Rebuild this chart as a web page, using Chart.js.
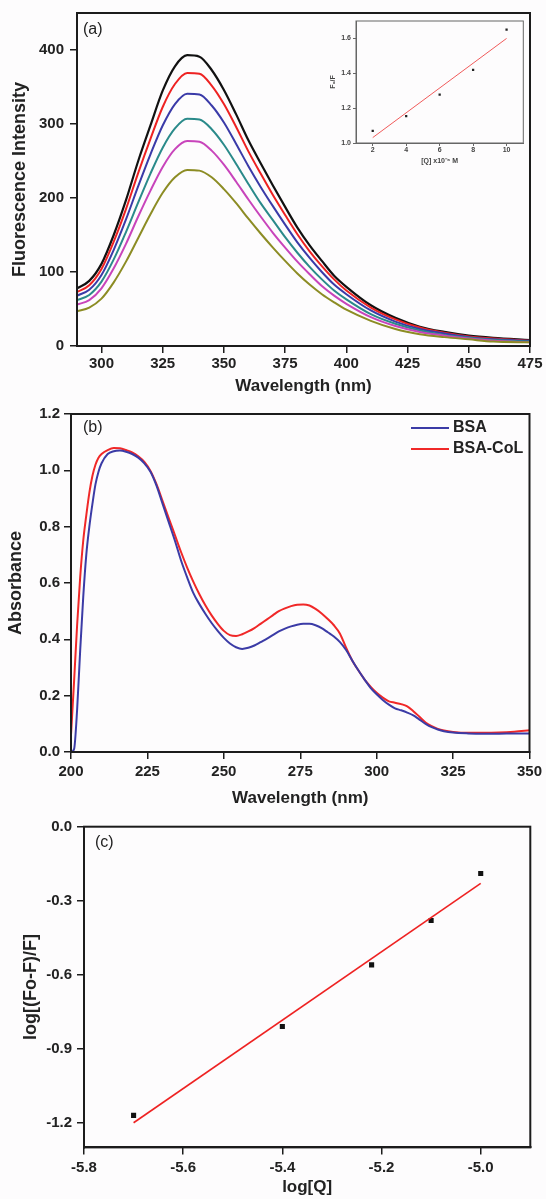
<!DOCTYPE html>
<html><head><meta charset="utf-8">
<script src="https://cdn.jsdelivr.net/npm/chart.js@4.4.0/dist/chart.umd.min.js"></script>
<style>
html,body{margin:0;padding:0;background:#fdfcfd;}
#wrap{position:relative;width:546px;height:1199px;overflow:hidden;background:#fdfcfd;}
canvas{position:absolute;}
</style></head><body>
<div id="wrap">
<canvas id="cA" width="546" height="400" style="left:0;top:0;width:546px;height:400px"></canvas>
<canvas id="cI" width="210" height="155" style="left:320px;top:15px;width:210px;height:155px"></canvas>
<canvas id="cB" width="546" height="415" style="left:0;top:400px;width:546px;height:415px"></canvas>
<canvas id="cC" width="546" height="384" style="left:0;top:815px;width:546px;height:384px"></canvas>
</div>
<script>
// ---------- Panel (a): fluorescence spectra ----------
const fluoWl = [290,295,300,305,310,315,320,325,330,335,340,345,350,355,360,365,370,375,380,385,390,395,400,410,420,430,440,450,460,475];
const fluo0 = [78,88,111,150,197,250,298,345,378,393,391,373,346,313,278,247,217,188,160,136,115,95,80,55,38,26,19,14,11,8];
const fluo1 = [73,82,104,141,185,234,280,323,354,369,368,352,327,296,263,233,204,177,151,128,108,90,75,52,36,25,18,13,10,7];
const fluo2 = [68,76,96,130,171,216,259,298,327,341,340,325,302,273,243,215,189,164,140,119,100,83,70,48,33,23,17,12,9,7];
const fluo3 = [62,69,87,117,154,194,233,268,294,307,306,293,272,246,219,193,170,147,126,107,90,75,63,43,30,21,15,11,8,6];
const fluo4 = [56,62,78,105,138,175,210,242,266,277,276,264,245,222,198,175,153,133,114,97,81,68,57,39,27,19,14,10,7,5];
const fluo5 = [47,52,64,86,114,146,178,207,228,238,237,228,212,193,172,152,133,115,98,83,70,59,49,34,23,16,12,9,6,5];
const aXTicks = [300,325,350,375,400,425,450,475];
const aYTicks = [0,100,200,300,400];

// ---------- Inset: F0/F vs [Q] ----------
const insetConc = [2,4,6,8,10];
const insetF0F = [1.069,1.154,1.278,1.419,1.65];
const insetFitX = [2,10];
const insetFitY = [1.031,1.60];
const insetXTicks = [2,4,6,8,10];
const insetYTicks = [1.0,1.2,1.4,1.6];

// ---------- Panel (b): absorbance ----------
const absWl = [200,201,202,203,204,205,206,207,208,209,210,212,214,216,218,220,222,224,226,228,230,232,234,236,238,240,242,244,246,248,250,252,254,256,258,260,262,264,266,268,270,272,274,276,278,280,282,284,286,288,290,292,294,296,298,300,302,304,306,308,310,312,314,316,318,320,322,325,330,335,340,345,350];
const absBSA = [0.00,0.01,0.15,0.36,0.55,0.70,0.80,0.88,0.95,0.995,1.025,1.058,1.068,1.070,1.066,1.058,1.045,1.025,0.995,0.945,0.88,0.815,0.75,0.68,0.62,0.565,0.525,0.49,0.458,0.43,0.405,0.385,0.372,0.366,0.37,0.378,0.39,0.402,0.415,0.428,0.438,0.446,0.452,0.455,0.455,0.45,0.44,0.425,0.41,0.39,0.362,0.325,0.29,0.258,0.228,0.205,0.185,0.168,0.155,0.148,0.14,0.13,0.115,0.10,0.088,0.08,0.074,0.069,0.066,0.065,0.065,0.066,0.066];
const absCoL = [0.06,0.25,0.45,0.62,0.75,0.84,0.92,0.98,1.02,1.045,1.058,1.072,1.079,1.078,1.072,1.064,1.05,1.03,0.998,0.95,0.89,0.83,0.77,0.71,0.655,0.605,0.56,0.52,0.485,0.455,0.43,0.415,0.412,0.418,0.428,0.44,0.455,0.47,0.485,0.50,0.51,0.518,0.523,0.524,0.52,0.508,0.492,0.472,0.45,0.42,0.37,0.325,0.29,0.258,0.232,0.21,0.193,0.18,0.175,0.17,0.162,0.145,0.125,0.105,0.092,0.082,0.076,0.071,0.068,0.068,0.069,0.072,0.077];
const absLabels = ['BSA','BSA-CoL'];
const bXTicks = [200,225,250,275,300,325,350];
const bYTicks = [0,0.2,0.4,0.6,0.8,1.0,1.2];

// ---------- Panel (c): double log ----------
const logQ = [-5.70,-5.40,-5.22,-5.10,-5.00];
const logRatio = [-1.17,-0.81,-0.56,-0.38,-0.19];
const logFitX = [-5.70,-5.00];
const logFitY = [-1.20,-0.23];
const cXTicks = [-5.8,-5.6,-5.4,-5.2,-5.0];
const cYTicks = [0,-0.3,-0.6,-0.9,-1.2];

// ---------------------------------------------------
const FF = "'Liberation Sans', Arial, Helvetica, sans-serif";
const INK = '#1c1c1c';
const toXY = (xs, ys) => xs.map((x,i)=>({x:x, y:ys[i]}));

function mkScale(o){
  return {
    type:'linear', position:o.pos, min:o.min, max:o.max,
    afterBuildTicks: s => { s.ticks = o.ticks.map(v=>({value:v})); },
    afterFit: s => {
      if (o.pos==='left') s.width = o.size; else s.height = o.size;
      s.paddingLeft = 0; s.paddingRight = 0; s.paddingTop = 0; s.paddingBottom = 0;
    },
    grid:{display:true, drawOnChartArea:false, drawTicks:true, tickLength:o.tickLen, color:o.color, lineWidth:o.lw},
    border:{display:true, color:o.color, width:o.bw},
    ticks:{color:o.tcolor, font:{family:FF, size:o.fs, weight:'bold'}, padding:o.tpad, maxRotation:0, autoSkip:false,
           callback: v => o.fmt(v)},
    title:{display:true, text:o.title, color:o.tcolor, font:{family:FF, size:o.tfs, weight:'bold'}, padding:o.titlePad}
  };
}

const framePlugin = {
  id:'frame',
  afterDraw(chart, args, opts){
    const ctx = chart.ctx, a = chart.chartArea;
    ctx.save();
    ctx.strokeStyle = opts.color; ctx.lineWidth = opts.width;
    ctx.strokeRect(a.left, a.top, a.right-a.left, a.bottom-a.top);
    if (opts.label){
      ctx.fillStyle = '#222'; ctx.font = opts.labelFont;
      ctx.textBaseline = 'middle'; ctx.textAlign = 'left';
      ctx.fillText(opts.label, opts.lx, opts.ly);
    }
    ctx.restore();
  }
};

const lineLegend = {
  id:'lineLegend',
  afterDraw(chart, args, opts){
    if (!opts || !opts.show) return;
    const ctx = chart.ctx;
    ctx.save();
    chart.data.datasets.forEach((ds,i)=>{
      const y = opts.y0 + i*opts.dy;
      ctx.strokeStyle = ds.borderColor; ctx.lineWidth = ds.borderWidth;
      ctx.beginPath(); ctx.moveTo(opts.x0, y); ctx.lineTo(opts.x1, y); ctx.stroke();
      ctx.fillStyle = '#222'; ctx.font = 'bold 16px ' + FF;
      ctx.textBaseline = 'middle'; ctx.textAlign = 'left';
      ctx.fillText(ds.label, opts.tx, y);
    });
    ctx.restore();
  }
};

const baseOpts = {responsive:false, animation:false, devicePixelRatio:1, events:[],
  plugins:{legend:{display:false}, tooltip:{enabled:false}}};

function curve(label, xs, ys, color, w){
  return {label:label, data:toXY(xs, ys), showLine:true, borderColor:color, backgroundColor:color,
          borderWidth:w, pointRadius:0, cubicInterpolationMode:'monotone', fill:false};
}

// Panel A
new Chart(document.getElementById('cA'), {
  type:'scatter',
  data:{datasets:[
    curve('', fluoWl, fluo5, '#8c8c24', 2),
    curve('', fluoWl, fluo4, '#c844bb', 2),
    curve('', fluoWl, fluo3, '#2a8a8a', 2),
    curve('', fluoWl, fluo2, '#3a3aa8', 2),
    curve('', fluoWl, fluo1, '#ee2222', 2),
    curve('', fluoWl, fluo0, '#111111', 2.2)
  ]},
  options:Object.assign({}, baseOpts, {
    layout:{padding:{top:13, right:16, left:0, bottom:0}},
    scales:{
      x: mkScale({pos:'bottom', min:290, max:475, ticks:aXTicks, size:54, tickLen:7, color:INK, lw:1.5, bw:2,
                  tcolor:'#222', fs:15, tpad:2, fmt:v=>String(v), title:'Wavelength (nm)', tfs:17, titlePad:{top:0,bottom:3}}),
      y: mkScale({pos:'left', min:0, max:450, ticks:aYTicks, size:77, tickLen:7, color:INK, lw:1.5, bw:2,
                  tcolor:'#222', fs:15, tpad:6, fmt:v=>String(v), title:'Fluorescence Intensity', tfs:18, titlePad:{top:9,bottom:0}})
    },
    plugins:Object.assign({}, baseOpts.plugins, {frame:{color:INK, width:2, label:'(a)', labelFont:'16px '+FF, lx:83, ly:30}})
  }),
  plugins:[framePlugin]
});

// Inset
new Chart(document.getElementById('cI'), {
  type:'scatter',
  data:{datasets:[
    {label:'fit', data:toXY(insetFitX, insetFitY), showLine:true, borderColor:'#f05a5a', borderWidth:1, pointRadius:0},
    {label:'F0/F', data:toXY(insetConc, insetF0F), showLine:false, pointStyle:'rect', pointRadius:1.6, backgroundColor:'#222', borderWidth:0}
  ]},
  options:Object.assign({}, baseOpts, {
    layout:{padding:{top:6, right:6.7, left:0, bottom:0}},
    scales:{
      x: mkScale({pos:'bottom', min:1, max:11, ticks:insetXTicks, size:27, tickLen:3, color:'#666', lw:1, bw:1,
                  tcolor:'#444', fs:7, tpad:0, fmt:v=>String(v), title:'[Q] x10⁻⁶ M', tfs:7, titlePad:{top:0,bottom:5}}),
      y: mkScale({pos:'left', min:1.0, max:1.7, ticks:insetYTicks, size:36, tickLen:3, color:'#666', lw:1, bw:1,
                  tcolor:'#444', fs:7, tpad:2, fmt:v=>v.toFixed(1), title:'F₀/F', tfs:7, titlePad:{top:9,bottom:0}})
    },
    plugins:Object.assign({}, baseOpts.plugins, {frame:{color:'#666', width:1}})
  }),
  plugins:[framePlugin]
});

// Panel B
new Chart(document.getElementById('cB'), {
  type:'scatter',
  data:{datasets:[
    curve(absLabels[0], absWl, absBSA, '#3b3ba6', 2),
    curve(absLabels[1], absWl, absCoL, '#f02828', 2)
  ]},
  options:Object.assign({}, baseOpts, {
    layout:{padding:{top:14, right:16.5, left:0, bottom:0}},
    scales:{
      x: mkScale({pos:'bottom', min:200, max:350, ticks:bXTicks, size:63, tickLen:7, color:INK, lw:1.5, bw:2,
                  tcolor:'#222', fs:15, tpad:4, fmt:v=>String(v), title:'Wavelength (nm)', tfs:17, titlePad:{top:0,bottom:6}}),
      y: mkScale({pos:'left', min:0, max:1.2, ticks:bYTicks, size:71, tickLen:7, color:INK, lw:1.5, bw:2,
                  tcolor:'#222', fs:15, tpad:4, fmt:v=>v.toFixed(1), title:'Absorbance', tfs:18, titlePad:{top:5,bottom:0}})
    },
    plugins:Object.assign({}, baseOpts.plugins, {
      frame:{color:INK, width:2, label:'(b)', labelFont:'16px '+FF, lx:83, ly:28},
      lineLegend:{show:true, x0:411, x1:449, tx:453, y0:28, dy:21}
    })
  }),
  plugins:[framePlugin, lineLegend]
});

// Panel C
new Chart(document.getElementById('cC'), {
  type:'scatter',
  data:{datasets:[
    {label:'fit', data:toXY(logFitX, logFitY), showLine:true, borderColor:'#ee2222', borderWidth:1.6, pointRadius:0},
    {label:'data', data:toXY(logQ, logRatio), showLine:false, pointStyle:'rect', pointRadius:3.6, backgroundColor:'#111', borderWidth:0}
  ]},
  options:Object.assign({}, baseOpts, {
    layout:{padding:{top:11.7, right:15.7, left:0, bottom:0}},
    scales:{
      x: mkScale({pos:'bottom', min:-5.8, max:-4.9, ticks:cXTicks, size:51.6, tickLen:7, color:INK, lw:1.5, bw:2,
                  tcolor:'#222', fs:15, tpad:4.6, fmt:v=>v.toFixed(1), title:'log[Q]', tfs:17, titlePad:{top:0,bottom:1}}),
      y: mkScale({pos:'left', min:-1.3, max:0, ticks:cYTicks, size:84, tickLen:7, color:INK, lw:1.5, bw:2,
                  tcolor:'#222', fs:15, tpad:5, fmt:v=>v.toFixed(1), title:'log[(Fo-F)/F]', tfs:18, titlePad:{top:20,bottom:0}})
    },
    plugins:Object.assign({}, baseOpts.plugins, {frame:{color:INK, width:2, label:'(c)', labelFont:'16px '+FF, lx:95, ly:28}})
  }),
  plugins:[framePlugin]
});
</script>
</body></html>
